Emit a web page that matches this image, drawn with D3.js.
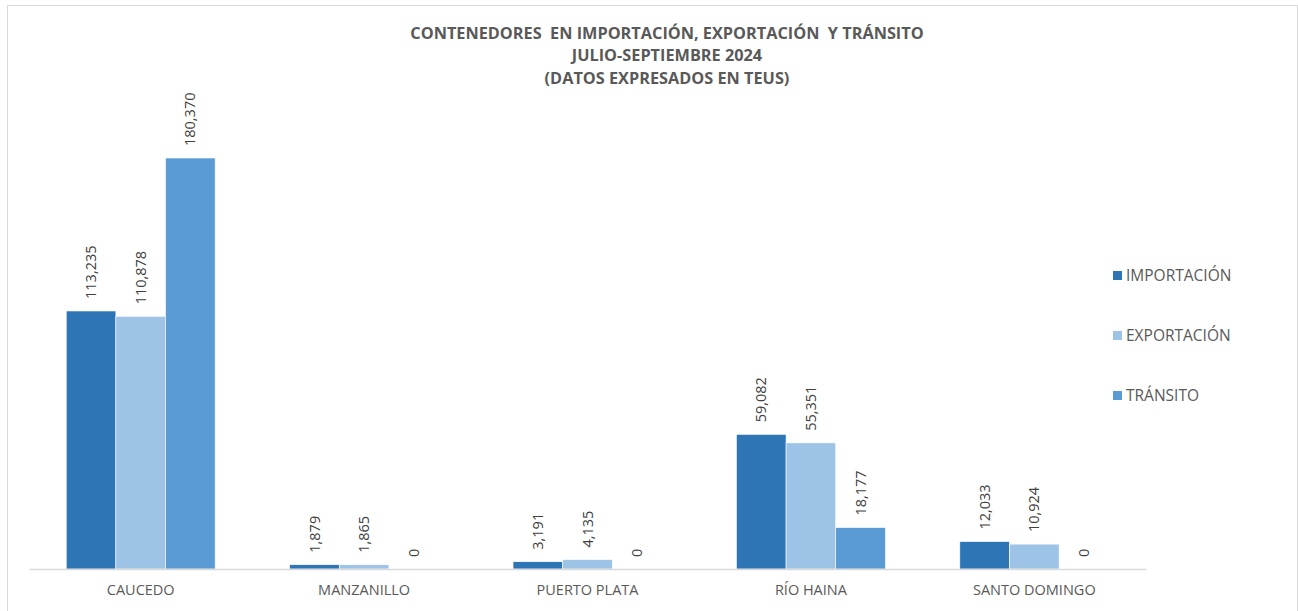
<!DOCTYPE html>
<html>
<head>
<meta charset="utf-8">
<script src="https://cdn.jsdelivr.net/npm/d3@7"></script>
<style>
  body { margin: 0; background: #fff; }
  text { font-family: "Open Sans", "Liberation Sans", sans-serif; }
</style>
</head>
<body>
<div id="chart"></div>
<script>
// data
const puertos = ["CAUCEDO", "MANZANILLO", "PUERTO PLATA", "RÍO HAINA", "SANTO DOMINGO"];
const series = ["IMPORTACIÓN", "EXPORTACIÓN", "TRÁNSITO"];
const importacion = [113235, 1879, 3191, 59082, 12033];
const exportacion = [110878, 1865, 4135, 55351, 10924];
const transito = [180370, 0, 0, 18177, 0];
const titulo = [
  "CONTENEDORES  EN IMPORTACIÓN, EXPORTACIÓN  Y TRÁNSITO",
  "JULIO-SEPTIEMBRE 2024",
  "(DATOS EXPRESADOS EN TEUS)"
];

const colores = ["#2E75B6", "#9DC3E6", "#5B9BD5"];
const valores = [importacion, exportacion, transito];

const W = 1298, H = 611;
const plot = { left: 29, right: 1146, bottom: 569, top: 158 };

const svg = d3.select("#chart").append("svg")
  .attr("width", W).attr("height", H);

// marco
svg.append("rect")
  .attr("x", 7.5).attr("y", 5.5)
  .attr("width", W - 8).attr("height", H)
  .attr("fill", "none").attr("stroke", "#d9d9d9");

// titulo
svg.append("g").selectAll("text")
  .data(titulo).enter().append("text")
  .attr("x", 667)
  .attr("y", (d, i) => 38.5 + i * 22.5)
  .attr("text-anchor", "middle")
  .attr("font-size", "16.3px")
  .attr("font-weight", "bold")
  .attr("fill", "#595959")
  .style("white-space", "pre")
  .text(d => d);

// escalas
const x0 = d3.scaleBand()
  .domain(puertos)
  .range([plot.left, plot.right])
  .paddingInner(1 / 3)
  .paddingOuter(1 / 6);

const x1 = d3.scaleBand()
  .domain(series)
  .range([0, x0.bandwidth()]);

const y = d3.scaleLinear()
  .domain([0, 180370])
  .range([plot.bottom, plot.top]);

// filas: una por puerto y serie
const filas = [];
puertos.forEach((p, i) => {
  series.forEach((s, j) => {
    filas.push({ puerto: p, serie: s, valor: valores[j][i], color: colores[j] });
  });
});

// barras
svg.append("g").selectAll("rect")
  .data(filas).enter().append("rect")
  .attr("x", d => x0(d.puerto) + x1(d.serie))
  .attr("y", d => y(d.valor))
  .attr("width", x1.bandwidth())
  .attr("height", d => y(0) - y(d.valor))
  .attr("fill", d => d.color)
  .attr("stroke", "#fff")
  .attr("stroke-width", 0.6);

// etiquetas de valores
const fmt = d3.format(",");
svg.append("g").selectAll("text")
  .data(filas).enter().append("text")
  .attr("transform", d => {
    const cx = x0(d.puerto) + x1(d.serie) + x1.bandwidth() / 2;
    return `translate(${cx},${y(d.valor) - 12}) rotate(-90)`;
  })
  .attr("dy", "0.35em")
  .attr("font-size", "14.5px")
  .attr("fill", "#404040")
  .text(d => fmt(d.valor));

// eje x
const eje = svg.append("g")
  .attr("transform", `translate(0,${plot.bottom})`)
  .call(d3.axisBottom(x0).tickSize(0).tickPadding(16));
eje.select(".domain").attr("stroke", "#d9d9d9").attr("stroke-width", 1.3);
eje.selectAll("text")
  .attr("font-size", "14.5px")
  .attr("fill", "#595959")
  .style("font-family", "'Open Sans', sans-serif");

// leyenda
const ley = svg.append("g").selectAll("g")
  .data(series).enter().append("g")
  .attr("transform", (d, i) => `translate(1113,${276 + i * 60})`);
ley.append("rect")
  .attr("y", -5).attr("width", 9).attr("height", 9)
  .attr("fill", (d, i) => colores[i]);
ley.append("text")
  .attr("x", 13)
  .attr("dy", "0.35em")
  .attr("font-size", "15.5px")
  .attr("fill", "#595959")
  .text(d => d);
</script>
</body>
</html>
